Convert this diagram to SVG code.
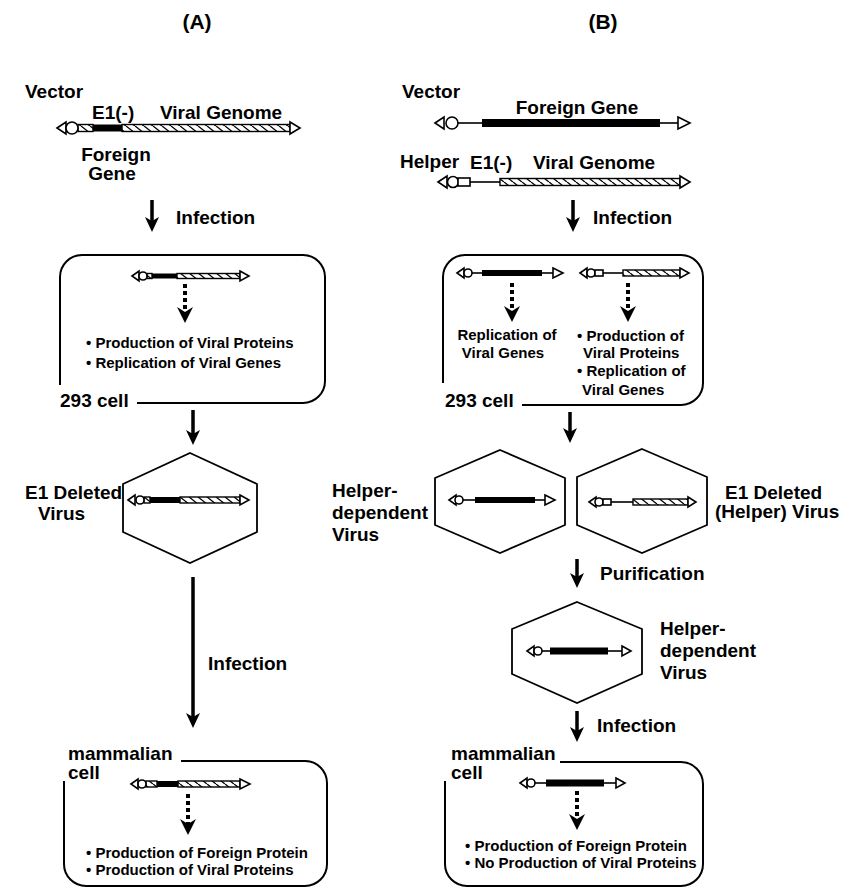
<svg xmlns="http://www.w3.org/2000/svg" width="847" height="889" viewBox="0 0 847 889">
<defs>
<style>
.t{font-family:"Liberation Sans",Arial,Helvetica,sans-serif;font-weight:bold;fill:#000}
.lg{font-size:19px}
.sm{font-size:15px}
.ttl{font-size:21px}
.box{fill:none;stroke:#000;stroke-width:2}
.hex{fill:#fff;stroke:#000;stroke-width:1.8}
.itr{fill:#fff;stroke:#000;stroke-width:1.6}
.bar{fill:#000}
.hat{fill:url(#hatch);stroke:#000;stroke-width:1.4}
.ln{stroke:#000;stroke-width:1.6}
.arr{stroke:#000;stroke-width:3.5;fill:none;marker-end:url(#ah)}
.dot{stroke:#000;stroke-width:4;stroke-dasharray:4 3;fill:none;marker-end:url(#dh)}
</style>
<pattern id="hatch" patternUnits="userSpaceOnUse" width="9" height="7">
<rect width="9" height="7" fill="#fff"/>
<path d="M0,0 L9,7 M-9,0 L0,7 M9,0 L18,7" stroke="#000" stroke-width="1.3"/>
</pattern>
<marker id="ah" markerUnits="userSpaceOnUse" markerWidth="16" markerHeight="16" viewBox="0 -8 16 16" refX="6" refY="0" orient="auto">
<path d="M0,-7 L15,0 L0,7 L4,0 Z" fill="#000"/>
</marker>
<marker id="dh" markerUnits="userSpaceOnUse" markerWidth="18" markerHeight="18" viewBox="0 -9 18 18" refX="5" refY="0" orient="auto">
<path d="M0,-8 L16,0 L0,8 L5,0 Z" fill="#000"/>
</marker>
</defs>
<rect width="847" height="889" fill="#fff"/>

<g id="title-a"><text class="t ttl" x="197" y="29" text-anchor="middle">(A)</text></g>
<g id="title-b"><text class="t ttl" x="603" y="29" text-anchor="middle">(B)</text></g>

<g id="vector-a">
<text class="t lg" x="25" y="98">Vector</text>
<text class="t lg" x="92" y="119">E1(-)</text>
<text class="t lg" x="160" y="119">Viral Genome</text>
<rect class="hat" x="78" y="124.5" width="15" height="7"/>
<rect class="bar" x="93" y="124.5" width="29" height="7"/>
<rect class="hat" x="122" y="124.5" width="168" height="7"/>
<polygon class="itr" points="57,128 66,122 66,134"/>
<circle class="itr" cx="72" cy="128" r="6"/>
<polygon class="itr" points="290,122 300,128 290,134"/>
<text class="t lg" x="116" y="161" text-anchor="middle">Foreign</text>
<text class="t lg" x="112" y="180" text-anchor="middle">Gene</text>
</g>

<g id="vector-b">
<text class="t lg" x="402" y="98">Vector</text>
<text class="t lg" x="577" y="114" text-anchor="middle">Foreign Gene</text>
<line class="ln" x1="458" y1="123" x2="482" y2="123"/>
<rect class="bar" x="482" y="119" width="178" height="8"/>
<line class="ln" x1="660" y1="123" x2="678" y2="123"/>
<polygon class="itr" points="435,123 444,117 444,129"/>
<circle class="itr" cx="452" cy="123" r="6"/>
<polygon class="itr" points="678,117 690,123 678,129"/>
</g>

<g id="helper-b">
<text class="t lg" x="400" y="168">Helper</text>
<text class="t lg" x="470" y="169">E1(-)</text>
<text class="t lg" x="533" y="169">Viral Genome</text>
<line class="ln" x1="470" y1="182" x2="500" y2="182"/>
<rect class="hat" x="500" y="178.5" width="180" height="7"/>
<polygon class="itr" points="438,182 447,176 447,188"/>
<circle class="itr" cx="453" cy="182" r="5.5"/>
<rect class="itr" x="458" y="178" width="12" height="8"/>
<polygon class="itr" points="680,176 690,182 680,188"/>
</g>

<g id="cell293-a">
<path class="box" d="M60,385 L60,277 A22,22 0 0 1 82,255 L303,255 A22,22 0 0 1 325,277 L325,381 A22,22 0 0 1 303,403 L137,403"/>
<rect class="hat" x="147" y="273.5" width="5" height="5"/>
<rect class="bar" x="152" y="273.5" width="25" height="5"/>
<rect class="hat" x="177" y="273.5" width="63" height="5"/>
<polygon class="itr" points="132,276 139,271 139,281"/>
<circle class="itr" cx="143" cy="276" r="4"/>
<polygon class="itr" points="240,271 249,276 240,281"/>
<line class="dot" x1="185" y1="284" x2="185" y2="312"/>
<text class="t sm" x="86" y="348">• Production of Viral Proteins</text>
<text class="t sm" x="86" y="368">• Replication of Viral Genes</text>
<text class="t lg" x="60" y="407">293 cell</text>
</g>

<g id="cell293-b">
<path class="box" d="M443,383 L443,277 A22,22 0 0 1 465,255 L681,255 A22,22 0 0 1 703,277 L703,383 A22,22 0 0 1 681,405 L522,405"/>
<line class="ln" x1="472" y1="273" x2="482" y2="273"/>
<rect class="bar" x="482" y="270" width="60" height="6"/>
<line class="ln" x1="542" y1="273" x2="553" y2="273"/>
<polygon class="itr" points="457,273 464,268 464,278"/>
<circle class="itr" cx="468" cy="273" r="4"/>
<polygon class="itr" points="553,268 563,273 553,278"/>
<line class="ln" x1="603" y1="273" x2="623" y2="273"/>
<rect class="hat" x="623" y="270" width="57" height="6"/>
<polygon class="itr" points="580,273 587,268 587,278"/>
<circle class="itr" cx="591" cy="273" r="4"/>
<rect class="itr" x="595" y="270" width="8" height="6"/>
<polygon class="itr" points="680,268 689,273 680,278"/>
<line class="dot" x1="512" y1="283" x2="512" y2="311"/>
<line class="dot" x1="628" y1="283" x2="628" y2="311"/>
<text class="t sm" x="507" y="340" text-anchor="middle">Replication of</text>
<text class="t sm" x="503" y="358" text-anchor="middle">Viral Genes</text>
<text class="t sm" x="577" y="341">• Production of</text>
<text class="t sm" x="583" y="358">Viral Proteins</text>
<text class="t sm" x="577" y="376">• Replication of</text>
<text class="t sm" x="582" y="395">Viral Genes</text>
<text class="t lg" x="445" y="407">293 cell</text>
</g>

<g id="virus-a">
<polygon class="hex" points="190,453 257,484 257,532 190,563 123,532 123,484"/>
<rect class="hat" x="144" y="497" width="6" height="6"/>
<rect class="bar" x="150" y="497" width="30" height="6"/>
<rect class="hat" x="180" y="497" width="60" height="6"/>
<polygon class="itr" points="128,500 135,495 135,505"/>
<circle class="itr" cx="140" cy="500" r="4"/>
<polygon class="itr" points="240,495 249,500 240,505"/>
<text class="t lg" x="25" y="499">E1 Deleted</text>
<text class="t lg" x="38" y="520">Virus</text>
</g>

<g id="virus-hd">
<polygon class="hex" points="500,450 565,478 565,525 500,553 435,525 435,478"/>
<line class="ln" x1="463" y1="500" x2="475" y2="500"/>
<rect class="bar" x="475" y="497" width="60" height="6"/>
<line class="ln" x1="535" y1="500" x2="545" y2="500"/>
<polygon class="itr" points="449,500 456,495 456,505"/>
<circle class="itr" cx="459" cy="500" r="4"/>
<polygon class="itr" points="545,495 555,500 545,505"/>
<text class="t lg" x="332" y="497">Helper-</text>
<text class="t lg" x="332" y="519">dependent</text>
<text class="t lg" x="332" y="541">Virus</text>
</g>

<g id="virus-helper">
<polygon class="hex" points="642,449 707,477 707,525 642,553 577,525 577,477"/>
<line class="ln" x1="611" y1="502" x2="633" y2="502"/>
<rect class="hat" x="633" y="499" width="55" height="6"/>
<polygon class="itr" points="589,502 596,497 596,507"/>
<circle class="itr" cx="599" cy="502" r="4"/>
<rect class="itr" x="603" y="499" width="8" height="6"/>
<polygon class="itr" points="688,497 696,502 688,507"/>
<text class="t lg" x="725" y="499">E1 Deleted</text>
<text class="t lg" x="715" y="518">(Helper) Virus</text>
</g>

<g id="virus-hd-purified">
<polygon class="hex" points="577,602 642,629 642,674 577,703 512,674 512,629"/>
<line class="ln" x1="542" y1="651" x2="550" y2="651"/>
<rect class="bar" x="550" y="647.5" width="58" height="7"/>
<line class="ln" x1="608" y1="651" x2="622" y2="651"/>
<polygon class="itr" points="527,651 534,646 534,656"/>
<circle class="itr" cx="538" cy="651" r="4"/>
<polygon class="itr" points="622,646 631,651 622,656"/>
<text class="t lg" x="660" y="635">Helper-</text>
<text class="t lg" x="660" y="657">dependent</text>
<text class="t lg" x="660" y="679">Virus</text>
</g>

<g id="mammalian-a">
<path class="box" d="M181,761 L305,761 A22,22 0 0 1 327,783 L327,864 A22,22 0 0 1 305,886 L86,886 A22,22 0 0 1 64,864 L64,781"/>
<rect class="hat" x="146" y="781" width="11" height="6"/>
<rect class="bar" x="157" y="781" width="21" height="6"/>
<rect class="hat" x="178" y="781" width="62" height="6"/>
<polygon class="itr" points="131,784 138,779 138,789"/>
<circle class="itr" cx="142" cy="784" r="4"/>
<polygon class="itr" points="240,779 250,784 240,789"/>
<line class="dot" x1="188" y1="794" x2="188" y2="824"/>
<text class="t lg" x="68" y="760">mammalian</text>
<text class="t lg" x="68" y="779">cell</text>
<text class="t sm" x="86" y="858">• Production of Foreign Protein</text>
<text class="t sm" x="86" y="875">• Production of Viral Proteins</text>
</g>

<g id="mammalian-b">
<path class="box" d="M560,762 L681,762 A22,22 0 0 1 703,784 L703,864 A22,22 0 0 1 681,886 L467,886 A22,22 0 0 1 445,864 L445,781"/>
<line class="ln" x1="535" y1="783" x2="546" y2="783"/>
<rect class="bar" x="546" y="779.5" width="58" height="7"/>
<line class="ln" x1="604" y1="783" x2="616" y2="783"/>
<polygon class="itr" points="520,783 527,778 527,788"/>
<circle class="itr" cx="531" cy="783" r="4"/>
<polygon class="itr" points="616,778 625,783 616,788"/>
<line class="dot" x1="577" y1="791" x2="577" y2="819"/>
<text class="t lg" x="451" y="760">mammalian</text>
<text class="t lg" x="451" y="779">cell</text>
<text class="t sm" x="465" y="851">• Production of Foreign Protein</text>
<text class="t sm" x="465" y="868">• No Production of Viral Proteins</text>
</g>

<g id="connectors">
<line class="arr" x1="152" y1="200" x2="152" y2="223"/>
<text class="t lg" x="176" y="224">Infection</text>
<line class="arr" x1="573" y1="200" x2="573" y2="223"/>
<text class="t lg" x="593" y="224">Infection</text>
<line class="arr" x1="193" y1="410" x2="193" y2="436"/>
<line class="arr" x1="570" y1="412" x2="570" y2="434"/>
<line class="arr" x1="193" y1="577" x2="193" y2="719"/>
<text class="t lg" x="208" y="670">Infection</text>
<line class="arr" x1="577" y1="559" x2="577" y2="579"/>
<text class="t lg" x="600" y="580">Purification</text>
<line class="arr" x1="577" y1="711" x2="577" y2="733"/>
<text class="t lg" x="597" y="732">Infection</text>
</g>
</svg>
